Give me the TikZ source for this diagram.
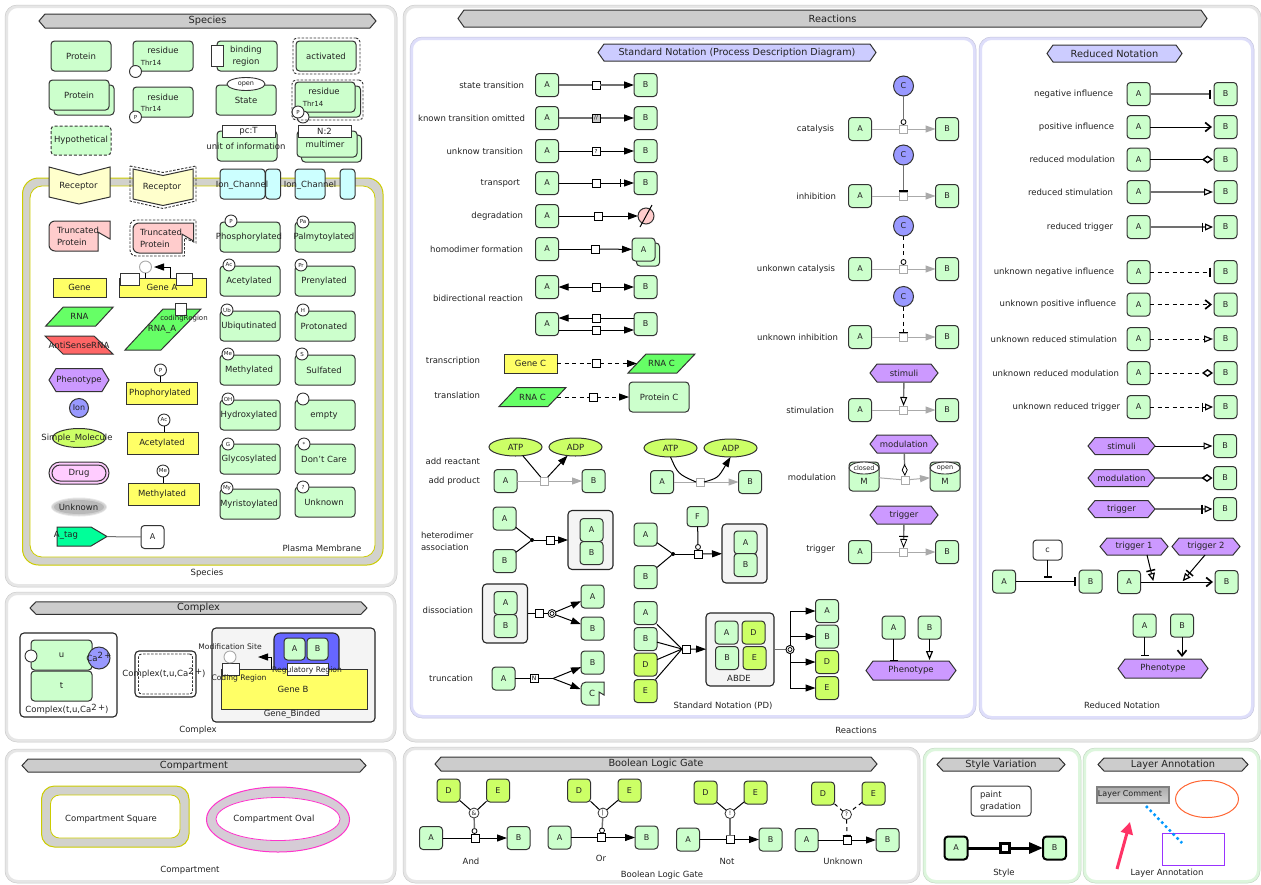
\documentclass[tikz,border=0pt]{standalone}
\usepackage{fontspec}
\setmainfont{DejaVu Sans}
\usetikzlibrary{arrows.meta,shapes.geometric,calc}
\definecolor{pgreen}{HTML}{CCFFCC}
\definecolor{edge}{HTML}{333333}
\definecolor{txtc}{HTML}{222222}
\definecolor{gyel}{HTML}{FFFF66}
\definecolor{lime}{HTML}{CCFF66}
\definecolor{purp}{HTML}{CC99FF}
\definecolor{blu}{HTML}{9999FF}
\definecolor{cyn}{HTML}{CCFFFF}
\definecolor{pnk}{HTML}{FFCCCC}
\definecolor{ryel}{HTML}{FFFFCC}
\definecolor{ttl}{HTML}{CCCCCC}
\definecolor{ttlb}{HTML}{CCCCFF}
\definecolor{frg}{HTML}{E6E6E6}
\definecolor{frl}{HTML}{DEDEFA}
\definecolor{frv}{HTML}{DDF6DD}
\definecolor{oliv}{HTML}{CCCC00}
\definecolor{band}{HTML}{D2D2CC}
\definecolor{pale}{HTML}{F4F4F4}
\definecolor{gln}{HTML}{AAAAAA}
\definecolor{rnag}{HTML}{66FF66}
\definecolor{rnar}{HTML}{FF6666}
\definecolor{tagg}{HTML}{00FF99}
\definecolor{drg}{HTML}{FFCCFF}
\definecolor{hot}{HTML}{FF33CC}
\definecolor{ovb}{HTML}{D6CCD6}
\definecolor{blue6}{HTML}{6666FF}
\definecolor{orng}{HTML}{FF6633}
\definecolor{vio}{HTML}{9933FF}
\definecolor{sky}{HTML}{0099FF}
\definecolor{rose}{HTML}{FF3366}
\tikzset{
 lbl/.style={font=\fontsize{8.5}{12}\selectfont,text=txtc,inner sep=0pt,outer sep=0pt,align=center},
 sml/.style={lbl,font=\fontsize{7}{9}\selectfont},
 sp/.style={draw=edge,fill=pgreen,line width=1pt,rounded corners=3.5pt,inner sep=0pt,outer sep=0pt},
 whb/.style={sp,fill=white},
 wrc/.style={draw=edge,fill=white,line width=1pt,inner sep=0pt,outer sep=0pt},
 yel/.style={draw=edge,fill=gyel,line width=1pt,inner sep=0pt,outer sep=0pt},
 dsh/.style={draw=edge,fill=none,line width=.9pt,dash pattern=on 2.5pt off 1.5pt,rounded corners=4pt,inner sep=0pt,outer sep=0pt},
 cham/.style={rectangle,rounded corners=4pt,draw=black!85,line width=1.1pt,inner sep=0pt,outer sep=0pt},
 modc/.style={circle,draw=edge,fill=white,line width=.9pt,minimum size=12pt,inner sep=0pt,outer sep=0pt,font=\fontsize{5.5}{6}\selectfont,text=txtc},
 sqr/.style={rectangle,draw=black,fill=white,line width=1pt,minimum size=8pt,inner sep=0pt,outer sep=0pt,font=\fontsize{5.5}{6}\selectfont},
 gsq/.style={sqr,draw=gln},
 dotn/.style={circle,fill=black,minimum size=4pt,inner sep=0pt,outer sep=0pt},
 kat/.style={circle,draw=black,fill=white,line width=.8pt,minimum size=5pt,inner sep=0pt,outer sep=0pt},
 gate/.style={circle,draw=edge,fill=white,line width=.8pt,minimum size=10pt,inner sep=0pt,outer sep=0pt,font=\fontsize{6}{6}\selectfont,text=txtc},
 cc/.style={circle,draw=black,fill=white,line width=.8pt,minimum size=8pt,inner sep=0pt,outer sep=0pt},
 ccin/.style={circle,draw=black,fill=white,line width=.7pt,minimum size=4pt,inner sep=0pt,outer sep=0pt},
 big/.style={circle,draw=edge,fill=blu,line width=1pt,minimum size=20pt,inner sep=0pt,outer sep=0pt,font=\fontsize{8}{10}\selectfont,text=txtc},
 ell/.style={ellipse,draw=edge,fill=lime,line width=1pt,minimum width=53pt,minimum height=18pt,inner sep=0pt,outer sep=0pt,font=\fontsize{8.5}{10}\selectfont,text=txtc},
 lk/.style={draw=black,line width=1pt},
 lkg/.style={draw=gln,line width=1pt},
 lkd/.style={draw=black,line width=1pt,dash pattern=on 4pt off 3.5pt},
 lkt/.style={draw=edge!70,line width=1.4pt},
 arw/.style={-{Triangle[length=10pt,width=7pt,color=black,fill=black]}},
 arg/.style={lkg,-{Triangle[length=10pt,width=7pt,color=gln,fill=gln]}},
 barb/.style={shorten >=2pt,-{Straight Barb[length=5.5pt,width=9pt,line width=1.7pt,color=black]}},
 tbar/.style={-{Bar[width=9pt,line width=1.7pt,color=black]}},
 rbar/.style={shorten >=3pt,-{Bar[width=9pt,line width=1.7pt,color=black]}},
 otri/.style={shorten >=1pt,-{Triangle[open,length=9pt,width=7pt,fill=white,line width=1.2pt,color=black]}},
 odia/.style={shorten >=1pt,-{Diamond[open,length=11pt,width=8pt,fill=white,line width=1.4pt,color=black]}},
 otrig/.style={shorten >=1pt,-{Bar[width=9pt,line width=1.5pt,sep=2pt,color=black] Triangle[open,length=8pt,width=7pt,fill=white,line width=1.2pt,color=black]}},
}
\newcounter{zlb}
\newcommand\zlab[3][]{\stepcounter{zlb}\node[lbl,#1] (lb\arabic{zlb}) at (#2) {#3};}
\newcommand\zrt[2]{\zlab[anchor=east]{#1}{#2}}
\newcommand\zbox[5][]{\node[sp,minimum width=#4pt,minimum height=#5pt,#1] (#2) at (#3) {};}
\newcommand\zboxt[6][]{\zbox[#1]{#2}{#3}{#4}{#5}\node[lbl] (#2t) at (#2.center) {#6};}
\newcommand\ab[4][]{\node[sp,minimum width=23pt,minimum height=23pt,font=\fontsize{8}{10}\selectfont,text=txtc,#1] (#2) at (#3) {#4};}
\newcommand\zsq[3][]{\node[sqr,#1] (#2) at (#3) {};}
\newcommand\zpanel[5]{\draw[line width=3pt,draw=#5,fill=white,rounded corners=11pt] ({#1+1.5},{#2+1.5}) rectangle ({#3-1.5},{#4-1.5});\draw[line width=.5pt,draw=#5!88!black,rounded corners=12pt] (#1,#2) rectangle (#3,#4);}
\newcommand\zhexpath[5]{({#1-#3/2},#2) -- ({#1-#3/2+#5},{#2-#4/2}) -- ({#1+#3/2-#5},{#2-#4/2}) -- ({#1+#3/2},#2) -- ({#1+#3/2-#5},{#2+#4/2}) -- ({#1-#3/2+#5},{#2+#4/2}) -- cycle}
\newcommand\ztit[7][ttl]{\draw[fill=#1,draw=edge,line width=1pt] \zhexpath{#3}{#4}{#5}{#6}{6};\node[lbl,font=\fontsize{#7}{12}\selectfont,minimum width=#5pt,minimum height=#6pt] (#2) at (#3,#4) {\ztt};}
\newcommand\zhex[7][purp]{\draw[fill=#1,draw=edge,line width=1pt] \zhexpath{#3}{#4}{#5}{#6}{7};\node[lbl,minimum width=#5pt,minimum height=#6pt] (#2) at (#3,#4) {#7};}
\newcommand\zpar[8]{\draw[fill=#1,draw=edge,line width=1pt] ({#3-#5/2},{#4+#6/2}) -- ({#3-#5/2+#7},{#4-#6/2}) -- ({#3+#5/2},{#4-#6/2}) -- ({#3+#5/2-#7},{#4+#6/2}) -- cycle;\node[lbl,minimum width={(#5-#7)*1pt},minimum height=#6pt] (#2) at (#3,#4) {#8};}
\newcommand\ztr[6][]{\draw[fill=pnk,draw=edge,line width=1pt,#1] (#6,#5) [rounded corners=6pt] -- (#2,#5) -- (#2,#3) [sharp corners] -- (#4,#3) -- (#4,{#3+0.6*(#5-#3)}) -- (#6,{#3+0.37*(#5-#3)}) -- cycle;}
\newcommand\zgm[7]{\node[sp,minimum width=60pt,minimum height=30pt] (#1) at (#2,#3) {};\node[modc] (#1m) at (#4,#5) {#6};\node[lbl] (#1t) at ({#2-1},#3) {#7};}
\newcommand\zym[6]{\node[yel,minimum width=71pt,minimum height=22pt] (#1) at (#2,#3) {};\node[modc] (#1m) at (#4,#5) {#6};\draw[lk] (#1m) -- (#1m |- #1.north);}
\newcommand\zpd[2]{\ab{#1a}{547,#2}{A}\ab{#1b}{645.5,#2}{B}\zsq{#1s}{596,#2}}
\newcommand\zcol[2]{\ab{#1a}{860,#2}{A}\ab{#1b}{947,#2}{B}\zsq[draw=gln]{#1s}{903.5,#2}\draw[lkg] (#1a) -- (#1s);\draw[arg] (#1s) -- (#1b);}
\newcommand\zrd[4]{\ab{#1a}{1138.5,#2}{A}\ab{#1b}{1225.5,#2}{B}\zrt{#4,#2}{#3}}
\newcommand\zgat[8]{\ab[fill=lime]{#1d}{#2}{D}\ab[fill=lime]{#1e}{#3}{E}\node[gate] (#1g) at (#4) {#5};\ab{#1a}{#6}{A}\ab{#1b}{#7}{B}\zsq{#1s}{#8}}
\begin{document}
\begin{tikzpicture}[x=1pt,y=-1pt]
\useasboundingbox (0,0) rectangle (1261,884);
\fill[white] (0,0) rectangle (1261,884);
% ================= panels
\zpanel{5}{5}{397}{587}{frg}
\zpanel{5}{592}{396}{742}{frg}
\zpanel{5}{749}{396}{883}{frg}
\zpanel{403}{5}{1261}{742}{frg}
\zpanel{410}{37}{976}{718}{frl}
\zpanel{979}{37}{1254}{719}{frl}
\zpanel{403}{747}{920}{883}{frg}
\zpanel{923}{748}{1081}{883}{frv}
\zpanel{1083}{748}{1260}{883}{frv}
% titles
\def\ztt{Species}\ztit{tsp}{207.5}{21}{337}{14}{9.8}
\def\ztt{Reactions}\ztit{tre}{832.5}{18.5}{749}{17}{9.8}
\def\ztt{Standard Notation (Process Description Diagram)}\ztit[ttlb]{tst}{737}{52.5}{278}{17}{9.6}
\def\ztt{Reduced Notation}\ztit[ttlb]{trd}{1114.5}{53.5}{135}{17}{9.8}
\def\ztt{Complex}\ztit{tcx}{198.5}{608}{337}{12.5}{9.8}
\def\ztt{Compartment}\ztit{tcp}{194}{765.5}{344}{13}{9.8}
\def\ztt{Boolean Logic Gate}\ztit{tbl}{656}{764}{442}{14}{9.8}
\def\ztt{Style Variation}\ztit{tsv}{1001}{764.5}{128}{13}{9.8}
\def\ztt{Layer Annotation}\ztit{tla}{1173}{764.5}{150}{13}{9.8}
% ================= Species top
\zboxt{s1}{81,56}{60}{30}{Protein}
\zbox{s2}{163,56}{60}{30}
\zlab{163,50}{residue}\zlab[sml]{151,63}{Thr14}
\node[modc] (s2m) at (135.5,71.5) {};
\zbox{s3}{247,56}{60}{30}
\node[wrc,minimum width=12pt,minimum height=21pt] (s3r) at (217,55.5) {};
\zlab{246,56}{binding\\region}
\zboxt{s4}{326,56}{60}{30}{activated}
\zbox[dsh]{s4d}{326.5,56}{67}{36}
\zbox{s5b}{84,100}{60}{30}
\zboxt{s5}{79,95}{60}{30}{Protein}
\zbox{s6}{163,102}{60}{30}
\zlab{163,97}{residue}\zlab[sml]{151,109}{Thr14}
\node[modc] (s6m) at (135.5,117) {P};
\zboxt{s7}{246,100}{60}{30}{State}
\node[modc,ellipse,minimum width=38pt,minimum height=13pt,font=\fontsize{6.5}{7}\selectfont] (s7e) at (246,84) {open};
\zbox{s8b}{330.5,101.5}{60}{31}
\zbox{s8}{325,97}{60}{30}
\zlab{324,91}{residue}\zlab[sml]{313,104}{Thr14}
\node[modc] (s8m2) at (303,117) {};
\node[modc] (s8m) at (298,112) {P};
\zbox[dsh]{s8d}{327.5,100}{71}{40}
\zboxt[dash pattern=on 3pt off 2pt]{s9}{81,140.5}{60}{29}{Hypothetical}
\zbox{s10}{247,146}{60}{30}
\node[wrc,minimum width=53pt,minimum height=12pt] (s10r) at (248.5,131) {};
\node[lbl] (s10rt) at (s10r.center) {pc:T};
\zlab{246,146}{unit of information}
\zbox{s11b}{331.5,148.5}{60}{27}
\zbox{s11}{327,144}{60}{26}
\zlab{325,144}{multimer}
\node[wrc,minimum width=53pt,minimum height=12pt] (s11r) at (324.5,131) {};
\node[lbl] (s11rt) at (s11r.center) {N:2};
% membrane
\draw[fill=band,draw=oliv,line width=1pt,rounded corners=16pt] (22.5,178) rectangle (383,565);
\draw[fill=white,draw=oliv,line width=.8pt,rounded corners=12pt] (30,186) rectangle (375,557);
% receptors
\draw[fill=ryel,draw=edge,line width=1pt] (49,167) -- (79,175) -- (110,167) -- (110,197) -- (79,204) -- (49,197) -- cycle;
\zlab{78.5,186}{Receptor}
\draw[fill=ryel,draw=edge,line width=1pt] (133,169) -- (163,175.5) -- (193,169) -- (193,199) -- (163,205.5) -- (133,199) -- cycle;
\draw[draw=edge,line width=.9pt,dash pattern=on 2.5pt off 1.5pt] (130,166) -- (163,172.5) -- (196,166) -- (196,201) -- (163,208.5) -- (130,201) -- cycle;
\zlab{162,187}{Receptor}
% ion channels
\zbox[fill=cyn]{ic1}{242.5,184}{45}{30}
\zbox[fill=cyn]{ic1b}{273,184}{15}{30}
\zlab{242,185}{Ion\_Channel}
\zbox[fill=cyn]{ic2}{310,184}{30}{30}
\zbox[fill=cyn]{ic2b}{347.5,184}{15}{30}
\zlab{310,185}{Ion\_Channel}
% truncated
\ztr{49}{221}{110}{251}{98}
\zlab[anchor=west,align=left]{57,236}{Truncated\\Protein}
\ztr{133}{223}{193.5}{253}{182}
\draw[draw=edge,line width=.9pt,dash pattern=on 2.5pt off 1.5pt] (184.5,256) [rounded corners=6pt] -- (130,256) -- (130,220) [sharp corners] -- (196,220) -- (196,243) -- (184.5,238) -- cycle;
\zlab[anchor=west,align=left]{140,238}{Truncated\\Protein}
% gene
\node[yel,minimum width=53pt,minimum height=19pt] (g1) at (79.5,287.5) {};
\node[lbl] (g1t) at (g1.center) {Gene};
\node[yel,minimum width=87pt,minimum height=19pt] (g2) at (163,287.5) {};
\node[wrc,minimum width=19pt,minimum height=12pt] (g2a) at (129.5,279) {};
\node[wrc,minimum width=16pt,minimum height=12pt] (g2b) at (184,279) {};
\node[modc,draw=gln] (g2m) at (145.5,267) {};
\draw[lk] (g2m) -- (g2m |- g2.north);
\coordinate (g2s) at (170,278);\coordinate (g2e) at (154,267);
\draw[lk,arw] (g2s) |- (g2e);
\node[lbl] (g2t) at (162,287) {Gene A};
% RNA etc
\zpar{rnag}{rn}{79.5}{316.5}{67.5}{19}{17.5}{RNA}
\draw[fill=rnar,draw=edge,line width=1pt] (45,336) -- (94,336) -- (113,354) -- (63,354) -- cycle;
\zlab{79,345}{AntiSenseRNA}
\draw[fill=rnag,draw=edge,line width=1pt] (125,350) -- (163,309) -- (201,309) -- (161,350) -- cycle;
\zlab{162,329}{RNA\_A}
\node[wrc,minimum width=11pt,minimum height=12pt] (rnab) at (181,309) {};
\zlab[sml]{184,319}{codingRegion}
\zhex{ph}{79}{380}{60}{23}{Phenotype}
\node[big,minimum size=19pt] (ion) at (79,408) {Ion};
\node[ell,minimum height=19pt] (sm) at (79,438) {};
\zlab{77,438}{Simple\_Molecule}
\node[sp,fill=drg,rounded corners=11pt,minimum width=60pt,minimum height=22pt] (dr) at (79,473) {};
\node[sp,fill=none,rounded corners=8pt,minimum width=54pt,minimum height=16pt] (dr2) at (79,473) {};
\node[lbl] (drt) at (79,473) {Drug};
\fill[gray!18] (79,507) ellipse (28 and 9.5);
\fill[gray!35] (79,507) ellipse (27 and 8.5);
\fill[gray!55] (79,507) ellipse (25 and 7);
\zlab{78.5,507.5}{Unknown}
\draw[fill=tagg,draw=edge,line width=1pt] (57,527) -- (91,527) -- (107,536.5) -- (91,546) -- (57,546) -- cycle;
\node[lbl,minimum width=50pt,minimum height=19pt] (tg) at (82,536.5) {};
\zlab{66,535}{A\_tag}
\ab[fill=white]{tga}{152.5,537}{A}
\draw[draw=edge!70,line width=1pt] (tg) -- (tga);
\zlab{322,548}{Plasma Membrane}
\zlab{207,573}{Species}
% yellow with mods
\zym{y1}{161.5}{393}{160.5}{370}{P}\node[lbl] (y1t) at (160,393) {Phophorylated};
\zym{y2}{163}{443}{164}{420}{Ac}\node[lbl] (y2t) at (162,443) {Acetylated};
\zym{y3}{163.5}{494}{163}{471}{Me}\node[lbl] (y3t) at (162,494) {Methylated};
% green mods
\zgm{m1}{250}{237}{231}{221}{P}{Phosphorylated}
\zgm{m2}{325}{237}{303}{222}{Pa}{Palmytoylated}
\zgm{m3}{250}{281}{229}{265}{Ac}{Acetylated}
\zgm{m4}{325}{281}{301}{265}{Pr}{Prenylated}
\zgm{m5}{250}{326}{227}{310}{Ub}{Ubiqutinated}
\zgm{m6}{325}{326}{303}{310}{H}{Protonated}
\zgm{m7}{250}{370}{228}{354}{Me}{Methylated}
\zgm{m8}{325}{370}{302}{354}{S}{Sulfated}
\zgm{m9}{250}{415}{228}{399}{OH}{Hydroxylated}
\zgm{m10}{325}{415}{303}{399}{}{empty}
\zgm{m11}{250}{459}{228}{444}{G}{Glycosylated}
\zgm{m12}{325}{459}{304}{444}{*}{Don't Care}
\zgm{m13}{250}{504}{227}{488}{My}{Myristoylated}
\zgm{m14}{325}{502}{303}{487}{?}{Unknown}
% ================= Complex
\node[cham,fill=white,minimum width=97pt,minimum height=84pt] (cx1) at (68.5,675) {};
\zboxt{cxu}{61.5,655}{61}{30}{u}
\node[modc] (cxum) at (31,656) {};
\node[big,minimum size=22pt] (cxca) at (99,658) {};
\node[lbl] (cxcat) at (99,657) {Ca\raisebox{2.5pt}{2\,+}};
\zboxt{cxt}{61.5,686}{61}{30}{t}
\zlab{67,709}{Complex(t,u,Ca\raisebox{2.5pt}{2\,+})}
\node[cham,fill=white,minimum width=61pt,minimum height=46pt] (cx2) at (165.5,674) {};
\node[cham,fill=none,draw=edge,line width=.9pt,dash pattern=on 2.5pt off 1.5pt,rounded corners=3pt,minimum width=54pt,minimum height=40pt] (cx2d) at (165.5,674) {};
\zlab{164,673}{Complex(t,u,Ca\raisebox{2.5pt}{2\,+})}
\node[cham,fill=pale,minimum width=163pt,minimum height=94pt] (gb) at (293.5,675) {};
\node[cham,fill=blue6,rounded corners=6pt,minimum width=65pt,minimum height=42pt] (gbb) at (306.5,654) {};
\ab[minimum width=21pt,minimum height=22pt]{gba}{294.5,649}{A}
\ab[minimum width=21pt,minimum height=22pt]{gbc}{317.5,649}{B}
\node[yel,minimum width=146pt,minimum height=40pt] (gbg) at (294,689) {};
\node[wrc,minimum width=17pt,minimum height=12pt] (gbr) at (230.5,669) {};
\node[wrc,minimum width=41pt,minimum height=12pt] (gbq) at (307.5,669) {};
\node[modc,draw=gln] (gbm) at (230,657) {};
\draw[lk] (gbm) -- (gbr);
\coordinate (gbs) at (271,669);\coordinate (gbe) at (258,657);
\draw[lk,arw] (gbs) |- (gbe);
\zlab[font=\fontsize{7.6}{9}\selectfont]{230,647}{Modification Site}
\zlab[font=\fontsize{7.6}{9}\selectfont]{239,678}{Coding Region}
\zlab[font=\fontsize{7.6}{9}\selectfont]{307,670}{Regulatory Region}
\zlab{293,689}{Gene B}
\zlab{292,714}{Gene\_Binded}
\zlab{198,730}{Complex}
% ================= Compartment
\draw[fill=band,draw=oliv,line width=1pt,rounded corners=13pt] (41.5,786) rectangle (189,847);
\draw[fill=white,draw=oliv,line width=.8pt,rounded corners=9pt] (50.5,795) rectangle (180,838);
\zlab{111,819}{Compartment Square}
\draw[fill=ovb,draw=hot,line width=1pt] (278,819.5) ellipse (71.5 and 32.5);
\draw[fill=white,draw=hot,line width=.8pt] (278,819) ellipse (62 and 21.5);
\zlab{274,819}{Compartment Oval}
\zlab{190,870}{Compartment}
% ================= Standard notation left
\zpd{r1}{85}\zrt{524,85}{state transition}
\draw[lkt] (r1a) -- (r1s);\draw[lkt,arw] (r1s) -- (r1b);
\zpd{r2}{118}\zrt{525,118}{known transition omitted}
\draw[lkt] (r2a) -- (r2s);\draw[lkt,arw] (r2s) -- (r2b);
\node[sqr,fill=gray!40] (r2o) at (r2s) {//};
\zpd{r3}{151}\zrt{523,151}{unknow transition}
\draw[lk] (r3a) -- (r3s);\draw[lk,arw] (r3s) -- (r3b);
\node[sqr] (r3o) at (r3s) {?};
\zpd{r4}{183}\zrt{520,183}{transport}
\draw[lk] (r4a) -- (r4s);\draw[lk,arw] (r4s) -- (r4b);
\coordinate (r4k) at (620,183);
\draw[lk] ([yshift=-4pt]r4k) -- ([yshift=4pt]r4k);
% degradation
\ab{r5a}{547,216}{A}\zsq{r5s}{598,216}
\node[circle,draw=edge,fill=pnk,line width=1pt,minimum size=16pt,inner sep=0pt,outer sep=0pt] (r5d) at (646,216) {};
\draw[lk] (r5a) -- (r5s);\draw[lk,arw] (r5s) -- (r5d);
\draw[lk] (r5d.center) ++(6,-11) -- ++(-12,22);
\zrt{523,216}{degradation}
% homodimer
\ab{r6a}{547,249}{A}\zsq{r6s}{595,249}
\ab{r6c}{648,254.5}{}
\ab{r6b}{643.5,249.5}{A}
\draw[lk] (r6a) -- (r6s);\draw[lk,arw] (r6s) -- (r6b);
\zrt{523,249}{homodimer formation}
% bidirectional
\zpd{r7}{287}
\draw[lk,arw] (r7s) -- (r7a);\draw[lk,arw] (r7s) -- (r7b);
\zrt{523,298}{bidirectional reaction}
\ab{r8a}{547,324}{A}\ab{r8b}{645.5,324}{B}
\zsq{r8s}{596,318}\zsq{r8u}{596,330}
\draw[lk] (r8s -| r8b.west) -- (r8s);\draw[lk,arw] (r8s) -- (r8s -| r8a.east);
\draw[lk] (r8u -| r8a.east) -- (r8u);\draw[lk,arw] (r8u) -- (r8u -| r8b.west);
% transcription
\node[yel,minimum width=53pt,minimum height=19pt] (t1g) at (530.5,363.5) {};
\node[lbl] (t1gt) at (t1g.center) {Gene C};
\zsq{t1s}{596,363.5}
\zpar{rnag}{t1r}{661.5}{363.5}{67}{19}{18}{RNA C}
\draw[lkd] (t1g) -- (t1s);\draw[lkd,arw] (t1s) -- (t1r);
\zrt{480,361}{transcription}
\zpar{rnag}{t2r}{532.5}{397}{67}{19}{18}{RNA C}
\zsq{t2s}{593,397}
\zboxt{t2p}{659,397}{60}{30}{Protein C}
\draw[lkd] (t2r) -- (t2s);\draw[lkd,arw] (t2s) -- (t2p);
\zrt{480,395}{translation}
% add reactant
\node[ell] (e1a) at (515.5,447) {ATP};\node[ell] (e1d) at (575.5,447) {ADP};
\ab{e1x}{505.5,481}{A}\ab{e1y}{593.5,481}{B}\zsq[draw=gln]{e1s}{544,481}
\draw[lkg] (e1x) -- (e1s);\draw[arg] (e1s) -- (e1y);
\draw[lk] (e1a) -- (e1s);\draw[lk,arw] (e1s) -- (e1d);
\zrt{480,461}{add reactant}\zrt{480,481}{add product}
\node[ell] (e2a) at (670.5,448) {ATP};\node[ell] (e2d) at (730.5,448) {ADP};
\ab{e2x}{662,482}{A}\ab{e2y}{750,482}{B}\zsq[draw=gln]{e2s}{700,482}
\draw[lkg] (e2x) -- (e2s);\draw[arg] (e2s) -- (e2y);
\draw[lk] (e2a.south) .. controls (678,474) .. (e2s.west);
\draw[lk,arw] (e2s.east) .. controls (718,478) .. (e2d.south);
% heterodimer
\zlab[anchor=west,align=left]{421,541}{heterodimer\\association}
\ab{h1a}{504.5,518.5}{A}\ab{h1b}{504.5,561}{B}
\node[dotn] (h1d) at (532,540) {};\zsq{h1s}{550.5,540}
\node[cham,fill=pale,minimum width=45pt,minimum height=59pt] (h1c) at (590.5,540) {};
\ab{h1e}{591.5,530}{A}\ab{h1f}{591.5,553}{B}
\draw[lk] (h1a) -- (h1d);\draw[lk] (h1b) -- (h1d);\draw[lk] (h1d) -- (h1s);\draw[lk,arw] (h1s) -- (h1c);
% heterodimer 2
\ab{h2a}{645.5,534.5}{A}\ab{h2b}{645.5,577}{B}
\ab[minimum width=21pt,minimum height=20pt]{h2f}{697.5,516.5}{F}
\node[dotn] (h2d) at (673,554) {};\zsq{h2s}{698,554}
\node[kat] (h2k) at (698,547) {};
\node[cham,fill=pale,minimum width=45pt,minimum height=59pt] (h2c) at (744.5,553.5) {};
\ab{h2e}{745.5,542.5}{A}\ab{h2g}{745.5,565}{B}
\draw[lk] (h2a) -- (h2d);\draw[lk] (h2b) -- (h2d);\draw[lk] (h2d) -- (h2s);\draw[lk,arw] (h2s) -- (h2c);\draw[lk] (h2f) -- (h2k);
% dissociation
\zrt{473,610}{dissociation}
\node[cham,fill=pale,minimum width=45pt,minimum height=59pt] (d1c) at (505,613.5) {};
\ab{d1e}{505.5,603}{A}\ab{d1f}{505.5,626}{B}
\zsq{d1s}{539,613.5}
\node[cc] (d1o) at (552,613.5) {};\node[ccin] (d1i) at (d1o) {};
\ab{d1a}{592.5,596.5}{A}\ab{d1b}{592.5,628.5}{B}
\draw[lk] (d1c) -- (d1s);\draw[lk] (d1s) -- (d1o);\draw[lk,arw] (d1o) -- (d1a);\draw[lk,arw] (d1o) -- (d1b);
% truncation
\zrt{473,678}{truncation}
\ab{u1a}{503.5,678.5}{A}
\node[sqr,font=\fontsize{6}{6}\selectfont] (u1s) at (534,678.5) {N};
\coordinate (u1j) at (553,678.5);
\ab{u1b}{592.5,662.5}{B}
\draw[fill=pgreen,draw=edge,line width=1pt] (599,705) [rounded corners=5pt] -- (581,705) -- (581,682) [sharp corners] -- (604,682) -- (604,695) -- (599,692) -- cycle;
\node[lbl,minimum width=23pt,minimum height=23pt] (u1c) at (592,693.5) {C};
\draw[lk] (u1a) -- (u1s);\draw[lk] (u1s) -- (u1j);\draw[lk,arw] (u1j) -- (u1b);\draw[lk,arw] (u1j) -- (u1c);
% ABDE
\ab{a1}{645.5,613}{A}\ab{a2}{645.5,639}{B}\ab[fill=lime]{a3}{645.5,664.5}{D}\ab[fill=lime]{a4}{645.5,691}{E}
\zsq{as}{686,649}
\node[cham,fill=pale,minimum width=68pt,minimum height=73pt] (ac) at (740,649.5) {};
\ab{ac1}{726.5,632.5}{A}\ab[fill=lime]{ac2}{753.5,632.5}{D}
\ab{ac3}{727,658}{B}\ab[fill=lime]{ac4}{754.5,658}{E}
\zlab{739,678}{ABDE}
\node[cc] (ao) at (790,649.5) {};\node[ccin] (ai) at (ao) {};
\ab{o1}{827,611}{A}\ab{o2}{827,636.5}{B}\ab[fill=lime]{o3}{827,662}{D}\ab[fill=lime]{o4}{827,688}{E}
\foreach \q in {a1,a2,a3,a4}{\draw[lk] (\q) -- (as.west);}
\draw[lk,arw] (as) -- (ac);
\draw[lkt] (ac) -- (ao);
\draw[lk] (ao |- o1) -- (ao |- o4);
\foreach \q in {o1,o2,o3,o4}{\draw[lk,arw] (ao |- \q) -- (\q);}
\node[cc] (ao2) at (790,649.5) {};\node[ccin] (ai2) at (ao2) {};
\zlab{723,706}{Standard Notation (PD)}
% ================= right column
\zcol{c1}{129}\node[big] (c1c) at (903.5,86) {C};\node[kat] (c1k) at (903.5,122) {};
\draw[lkt] (c1c) -- (c1k);\zrt{834,129}{catalysis}
\zcol{c2}{196}\node[big] (c2c) at (903.5,155) {C};
\draw[lkt,tbar] (c2c) -- (c2s);\zrt{836,196}{inhibition}
\zcol{c3}{269}\node[big] (c3c) at (903.5,226) {C};\node[kat] (c3k) at (903.5,262) {};
\draw[lkd] (c3c) -- (c3k);\zrt{835,269}{unkonwn catalysis}
\zcol{c4}{337}\node[big] (c4c) at (903.5,296.5) {C};
\draw[lkd,-{Bar[width=9pt,line width=1.5pt]}] (c4c) -- (c4s);\zrt{838,337}{unknown inhibition}
\zcol{c5}{410}\zhex{c5h}{904}{373}{68}{18}{stimuli}
\draw[lkt,-{Triangle[open,length=9pt,width=7pt,fill=white,line width=1pt,color=black]}] (c5h) -- (c5s);\zrt{834,410}{stimulation}
% modulation
\zhex{c6h}{904}{444}{68}{18}{modulation}
\node[sp,minimum width=30pt,minimum height=29pt] (c6a) at (864,476.5) {};
\node[sp,minimum width=30pt,minimum height=29pt] (c6b) at (945,476.5) {};
\node[modc,ellipse,minimum width=30pt,minimum height=12pt,font=\fontsize{6.5}{7}\selectfont] (c6e) at (864,468) {closed};
\node[modc,ellipse,minimum width=30pt,minimum height=12pt,font=\fontsize{6.5}{7}\selectfont] (c6f) at (945,468) {open};
\zlab{864,481}{M}\zlab{945,481}{M}
\zsq[draw=gln]{c6s}{905,480}
\draw[lkg] (c6a) -- (c6s);\draw[arg] (c6s) -- (c6b);
\draw[lkt,-{Diamond[open,length=12pt,width=6pt,fill=white,line width=.8pt,color=black]}] (c6h) -- (c6s);
\zrt{836,477}{modulation}
% trigger
\zcol{c7}{552}\zhex{c7h}{904}{515}{68}{18}{trigger}
\draw[lkt,-{Bar[width=9pt,line width=1.2pt,sep=2pt,color=black] Triangle[open,length=9pt,width=7pt,fill=white,line width=.8pt,color=black]}] (c7h) -- (c7s);
\zrt{835,549}{trigger}
% phenotype
\zhex{c8h}{911}{670.5}{90}{19}{Phenotype}
\ab{c8a}{893.5,627.5}{A}\ab{c8b}{929.5,627.5}{B}
\draw[lk,-{Bar[width=8pt,line width=1pt]}] (c8a) -- (c8a |- c8h.north);
\draw[lk,otri] (c8b) -- (c8b |- c8h.north);
% ================= Reduced
\zrd{q1}{94}{negative influence}{1113}\draw[lkt,rbar] (q1a) -- (q1b);
\zrd{q2}{127}{positive influence}{1114}\draw[lk,barb] (q2a) -- (q2b);
\zrd{q3}{159.5}{reduced modulation}{1115}\draw[lk,odia] (q3a) -- (q3b);
\zrd{q4}{192}{reduced stimulation}{1113}\draw[lkt,otri] (q4a) -- (q4b);
\zrd{q5}{227}{reduced trigger}{1113}\draw[lkt,otrig] (q5a) -- (q5b);
\zrd{q6}{272}{unknown negative influence}{1114}\draw[lkd,rbar] (q6a) -- (q6b);
\zrd{q7}{304.5}{unknown positive influence}{1116}\draw[lkd,barb] (q7a) -- (q7b);
\zrd{q8}{339}{unknown reduced stimulation}{1117}\draw[lkd,otri] (q8a) -- (q8b);
\zrd{q9}{373}{unknown reduced modulation}{1119}\draw[lkd,odia] (q9a) -- (q9b);
\zrd{q10}{407}{unknown reduced trigger}{1120}\draw[lkd,otrig] (q10a) -- (q10b);
\zhex{q11h}{1121.5}{446}{67}{17}{stimuli}\ab{q11b}{1225,446}{B}\draw[lk,otri] (q11h) -- (q11b);
\zhex{q12h}{1121.5}{478}{67}{17}{modulation}\ab{q12b}{1225,478}{B}\draw[lkt,odia] (q12h) -- (q12b);
\zhex{q13h}{1121.5}{509}{67}{17}{trigger}\ab{q13b}{1225,509}{B}\draw[lkt,otrig] (q13h) -- (q13b);
% c inhibition
\node[whb,minimum width=29pt,minimum height=20pt,font=\fontsize{8}{10}\selectfont,text=txtc] (q14c) at (1047.5,550) {c};
\ab{q14a}{1004,581.5}{A}\ab{q14b}{1090.5,581.5}{B}
\draw[lk,rbar] (q14a) -- (q14b);
\coordinate (q14j) at (q14c |- q14a);
\draw[lk,shorten >=4pt,-{Bar[width=8pt,line width=1.5pt]}] (q14c) -- (q14j);
% triggers
\zhex{q15h}{1134}{546.5}{68}{17}{trigger 1}\zhex{q16h}{1206}{546.5}{68}{17}{trigger 2}
\ab{q15a}{1129,582}{A}\ab{q15b}{1226.5,582}{B}
\draw[lk,barb] (q15a) -- (q15b);
\coordinate (q15s) at (1147,555);\coordinate (q15e) at (1153.5,582);
\coordinate (q16s) at (1205,555);\coordinate (q16e) at (1182,582);
\draw[lk,otrig] (q15s) -- (q15e);
\draw[lk,otrig] (q16s) -- (q16e);
% phenotype reduced
\zhex{q17h}{1163}{668.5}{90}{19}{Phenotype}
\ab{q17a}{1144.5,625.5}{A}\ab{q17b}{1182,625.5}{B}
\coordinate (q17j) at (q17a |- q17h.north);
\draw[lk,shorten >=3pt,-{Bar[width=8pt,line width=1.5pt]}] (q17a) -- (q17j);
\draw[lk,barb] (q17b) -- (q17b |- q17h.north);
\zlab{1122,705}{Reduced Notation}
\zlab{856,730}{Reactions}
% ================= Boolean
\zgat{b1}{448.5,790.5}{498,790.5}{474,813}{\&}{431,838}{518.5,838}{475,838}
\node[kat] (b1k) at (474.5,831) {};
\draw[lk] (b1d) -- (b1g);\draw[lk] (b1e) -- (b1g);\draw[lkt] (b1g) -- (b1k);\draw[lk] (b1a) -- (b1s);\draw[lk,arw] (b1s) -- (b1b);
\zlab{471,861}{And}
\zgat{b2}{579,790.5}{629.5,790.5}{603,813}{|}{559.5,837.5}{646.5,837.5}{601,837.5}
\node[kat] (b2k) at (602,830.5) {};
\draw[lk] (b2d) -- (b2g);\draw[lk] (b2e) -- (b2g);\draw[lkt] (b2g) -- (b2k);\draw[lk] (b2a) -- (b2s);\draw[lk,arw] (b2s) -- (b2b);
\zlab{601,858}{Or}
\zgat{b3}{705.5,792.5}{755.5,792.5}{730,813.5}{!}{688,839.5}{770.5,839.5}{730,839.5}
\draw[lk] (b3d) -- (b3g);\draw[lk] (b3e) -- (b3g);\draw[lkt,-{Bar[width=8pt,line width=1pt]}] (b3g) -- (b3s);\draw[lk] (b3a) -- (b3s);\draw[lk,arw] (b3s) -- (b3b);
\zlab{727,861.5}{Not}
\zgat{b4}{823,793.5}{873.5,793.5}{846.5,814.5}{?}{806.5,840}{887.5,840}{847,840}
\draw[lkd] (b4d) -- (b4g);\draw[lkd] (b4e) -- (b4g);\draw[lkd,-{Bar[width=8pt,line width=1pt]}] (b4g) -- (b4s);\draw[lk] (b4a) -- (b4s);\draw[lk,arw] (b4s) -- (b4b);
\zlab{843,861.5}{Unknown}
\zlab{662,875}{Boolean Logic Gate}
% ================= Style
\node[whb,minimum width=60pt,minimum height=30pt] (st1) at (1001,801) {};
\zlab[anchor=west,align=left]{980,801}{paint\\gradation}
\ab[line width=2pt,draw=black]{st2}{956,848}{A}\ab[line width=2pt,draw=black]{st3}{1054.5,848}{B}
\node[sqr,minimum size=9pt,line width=2.5pt] (st4) at (1005,848) {};
\draw[draw=black,line width=3pt] (st2) -- (st4);
\draw[draw=black,line width=3pt,-{Triangle[length=14pt,width=11pt]}] (st4) -- (st3);
\zlab{1004,873}{Style}
% ================= Layer
\node[rectangle,draw=gray,line width=1.2pt,top color=gray!65,bottom color=gray!35,minimum width=72pt,minimum height=16pt,inner sep=0pt,outer sep=0pt] (la1) at (1133,795) {};
\zlab[font=\fontsize{8}{10}\selectfont]{1130,794}{Layer Comment}
\node[ellipse,draw=orng,line width=1pt,minimum width=63pt,minimum height=37pt,inner sep=0pt,outer sep=0pt] (la2) at (1207,799) {};
\node[rectangle,draw=vio,line width=1pt,minimum width=62pt,minimum height=32pt,inner sep=0pt,outer sep=0pt] (la3) at (1193,849) {};
\coordinate (la4) at (1146,806);\coordinate (la5) at (1182,843);
\draw[draw=sky,line width=2.5pt,dash pattern=on 2.5pt off 3pt] (la4) -- (la5);
\coordinate (la6) at (1117,869);\coordinate (la7) at (1130,822);
\draw[draw=rose,line width=3pt,-{Triangle[length=12pt,width=12pt]}] (la6) -- (la7);
\zlab{1167,873}{Layer Annotation}
\end{tikzpicture}
\end{document}
